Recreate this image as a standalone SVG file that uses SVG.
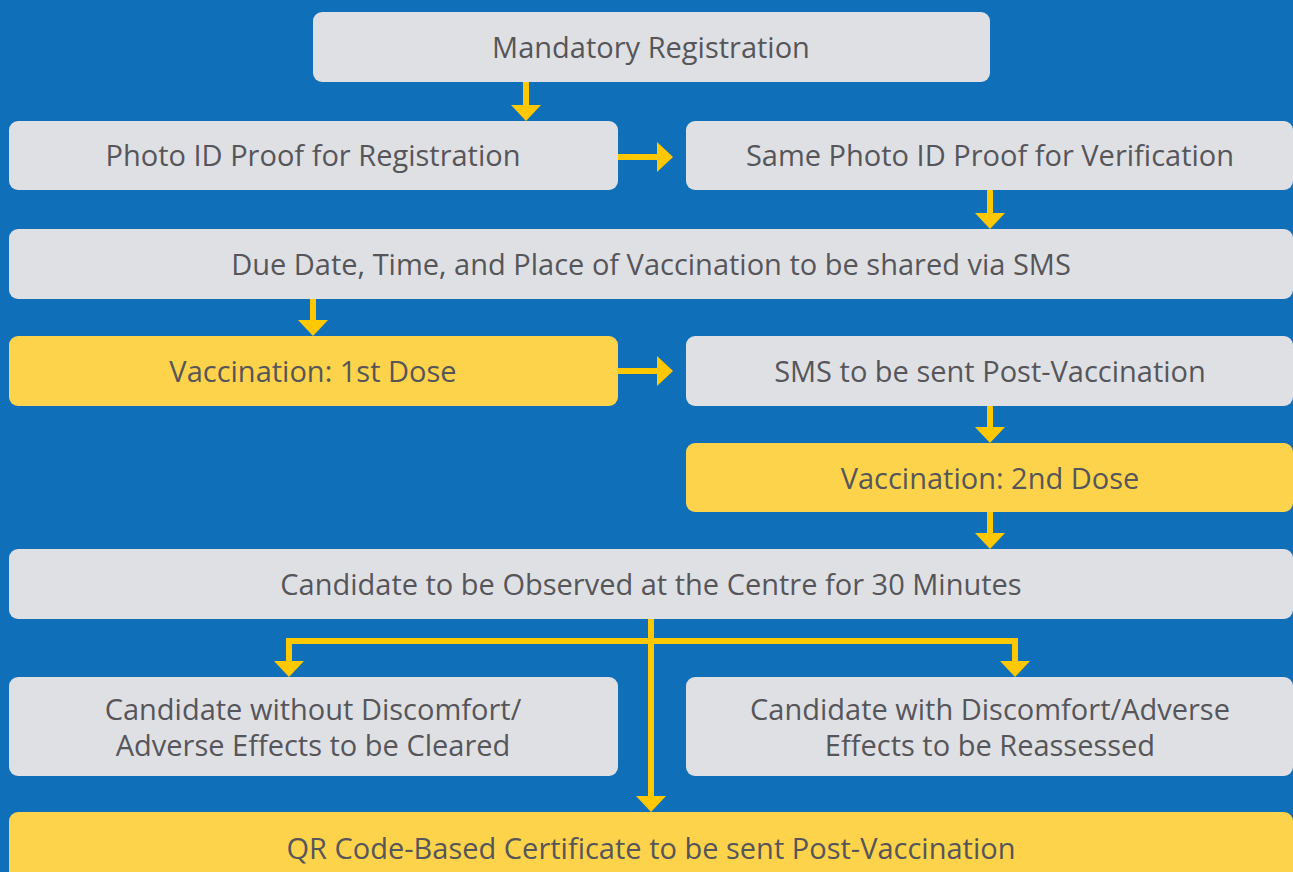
<svg xmlns="http://www.w3.org/2000/svg" width="1293" height="872" viewBox="0 0 1293 872">
<defs>
<style>
.g{fill:#DFE0E4}
.y{fill:#FDD34B}
text{font-family:"Open Sans","Liberation Sans",sans-serif;font-size:29px;fill:#56565A;text-anchor:middle}
.c line,.c polyline{stroke:#FFC800;stroke-width:6;fill:none}
.c polygon{fill:#FFC800}
</style>
</defs>
<rect width="1293" height="872" fill="#0F6FB8"/>
<g id="n1"><rect class="g" x="313" y="12" width="677" height="70" rx="9"/><text x="651" y="58">Mandatory Registration</text></g>
<g id="n2"><rect class="g" x="9" y="121" width="609" height="69" rx="9"/><text x="313" y="166">Photo ID Proof for Registration</text></g>
<g id="n3"><rect class="g" x="686" y="121" width="607" height="69" rx="9"/><text x="990" y="166">Same Photo ID Proof for Verification</text></g>
<g id="n4"><rect class="g" x="9" y="229" width="1284" height="70" rx="9"/><text x="651" y="275">Due Date, Time, and Place of Vaccination to be shared via SMS</text></g>
<g id="n5"><rect class="y" x="9" y="336" width="609" height="70" rx="9"/><text x="313" y="382">Vaccination: 1st Dose</text></g>
<g id="n6"><rect class="g" x="686" y="336" width="607" height="70" rx="9"/><text x="990" y="382">SMS to be sent Post-Vaccination</text></g>
<g id="n7"><rect class="y" x="686" y="443" width="607" height="69" rx="9"/><text x="990" y="489">Vaccination: 2nd Dose</text></g>
<g id="n8"><rect class="g" x="9" y="549" width="1284" height="70" rx="9"/><text x="651" y="595">Candidate to be Observed at the Centre for 30 Minutes</text></g>
<g id="n9"><rect class="g" x="9" y="677" width="609" height="99" rx="9"/><text x="313" y="720">Candidate without Discomfort/</text><text x="313" y="756">Adverse Effects to be Cleared</text></g>
<g id="n10"><rect class="g" x="686" y="677" width="607" height="99" rx="9"/><text x="990" y="720">Candidate with Discomfort/Adverse</text><text x="990" y="756">Effects to be Reassessed</text></g>
<g id="n11"><rect class="y" x="9" y="812" width="1284" height="80" rx="9"/><text x="651" y="859">QR Code-Based Certificate to be sent Post-Vaccination</text></g>
<g id="connectors" class="c">
<line x1="526" y1="82" x2="526" y2="106"/><polygon points="511,105 541,105 526,121"/>
<line x1="618" y1="157" x2="659" y2="157"/><polygon points="657,142 657,172 673,157"/>
<line x1="990" y1="190" x2="990" y2="214"/><polygon points="975,213 1005,213 990,229"/>
<line x1="313" y1="299" x2="313" y2="321"/><polygon points="298,320 328,320 313,336"/>
<line x1="618" y1="371" x2="659" y2="371"/><polygon points="657,356 657,386 673,371"/>
<line x1="990" y1="406" x2="990" y2="428"/><polygon points="975,427 1005,427 990,443"/>
<line x1="990" y1="512" x2="990" y2="534"/><polygon points="975,533 1005,533 990,549"/>
<line x1="651" y1="619" x2="651" y2="797"/><polygon points="636,796 666,796 651,812"/>
<polyline points="289,662 289,641 1015,641 1015,662"/>
<polygon points="274,661 304,661 289,677"/>
<polygon points="1000,661 1030,661 1015,677"/>
</g>
</svg>
